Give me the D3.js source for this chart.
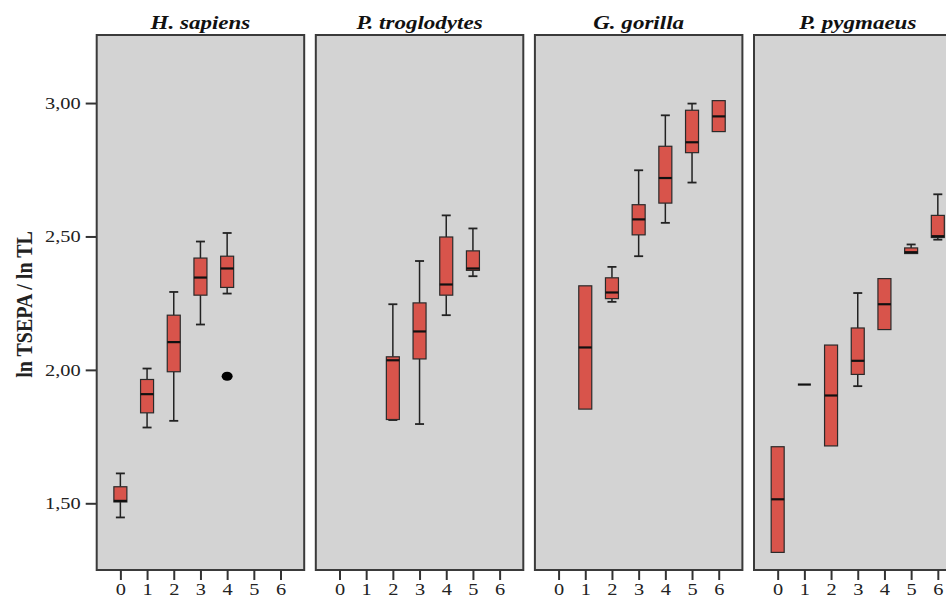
<!DOCTYPE html>
<html>
<head>
<meta charset="utf-8">
<script src="https://cdn.jsdelivr.net/npm/d3@7"></script>
<style>
  html, body { margin: 0; padding: 0; background: #fff; }
  svg { display: block; }
  text { font-family: 'Liberation Serif', 'Times New Roman', 'DejaVu Serif', serif; }
</style>
</head>
<body>
<svg id="chart" width="946" height="599"></svg>
<script>
// ---- Data ----
const species = ["H. sapiens", "P. troglodytes", "G. gorilla", "P. pygmaeus"];
const categories = [0, 1, 2, 3, 4, 5, 6];
const yTicks = [1.5, 2.0, 2.5, 3.0];
const yLabel = "ln TSEPA / ln TL";

// each box: [category, whiskerLow, q1, median, q3, whiskerHigh] (null whisker = none)
const hSapiens = [
  [0, 1.447, 1.505, 1.509, 1.562, 1.612],
  [1, 1.784, 1.839, 1.909, 1.964, 2.005],
  [2, 1.809, 1.993, 2.104, 2.205, 2.292],
  [3, 2.170, 2.280, 2.346, 2.419, 2.481],
  [4, 2.286, 2.309, 2.380, 2.426, 2.513]
];
const pTroglodytes = [
  [2, 1.812, 1.814, 2.036, 2.049, 2.246],
  [3, 1.797, 2.041, 2.144, 2.251, 2.408],
  [4, 2.205, 2.280, 2.320, 2.498, 2.579],
  [5, 2.351, 2.373, 2.380, 2.446, 2.530]
];
const gGorilla = [
  [1, null, 1.853, 2.084, 2.315, null],
  [2, 2.255, 2.267, 2.290, 2.345, 2.386],
  [3, 2.426, 2.506, 2.564, 2.619, 2.748],
  [4, 2.551, 2.625, 2.719, 2.838, 2.954],
  [5, 2.702, 2.814, 2.853, 2.973, 2.998],
  [6, null, 2.893, 2.950, 3.009, null]
];
const pPygmaeus = [
  [0, null, 1.316, 1.515, 1.712, null],
  [1, null, 1.945, 1.945, 1.945, null],
  [2, null, 1.715, 1.904, 2.093, null],
  [3, 1.939, 1.983, 2.034, 2.157, 2.288],
  [4, null, 2.151, 2.246, 2.342, null],
  [5, null, 2.436, 2.441, 2.457, 2.470],
  [6, 2.488, 2.496, 2.501, 2.579, 2.658]
];
// outliers: [category, value]
const hSapiensOutliers = [[4, 1.976]];
const panelsData = [hSapiens, pTroglodytes, gGorilla, pPygmaeus];
const panelsOutliers = [hSapiensOutliers, [], [], []];

// ---- Layout ----
const svg = d3.select("#chart");
const panelTop = 35, panelBottom = 570;
const panelWidth = 207.5, panelStep = 219.1, firstLeft = 96.7;
const boxW = 13;
const fillColor = "#d8544b";
const stretch = 1.2;

const y = d3.scaleLinear().domain([1.25, 3.255]).range([panelBottom, panelTop]);
const panelX = d3.scaleBand().domain(species).range([firstLeft, firstLeft + panelStep * 4]).paddingInner(0).paddingOuter(0);

function stretchText(sel) {
  sel.each(function() {
    const t = d3.select(this);
    const x = +t.attr("x") || 0;
    t.attr("x", 0).attr("transform", `translate(${x},0) scale(${stretch},1)`);
  });
}

// Y axis
const yAxis = d3.axisLeft(y).tickValues(yTicks).tickSize(11).tickPadding(5)
  .tickFormat(d => d3.format(".2f")(d).replace(".", ","));
const yg = svg.append("g").attr("transform", `translate(${firstLeft},0)`).call(yAxis);
yg.select(".domain").remove();
yg.selectAll(".tick line").attr("stroke", "#333").attr("stroke-width", 2);
yg.selectAll(".tick text").attr("font-family", null)
  .attr("font-size", 17).attr("fill", "#222").call(stretchText);

svg.append("text")
  .attr("transform", `translate(31.5,${(panelTop + panelBottom) / 2 + 2}) rotate(-90) scale(1,${stretch})`)
  .attr("text-anchor", "middle")
  .attr("font-weight", "bold").attr("font-size", 20).attr("fill", "#222")
  .text(yLabel);

species.forEach((sp, i) => {
  const left = panelX(sp);
  const g = svg.append("g").attr("transform", `translate(${left},0)`);
  const x = d3.scalePoint().domain(categories).range([0, panelWidth]).padding(0.887);

  g.append("rect").attr("x", 0).attr("y", panelTop).attr("width", panelWidth)
    .attr("height", panelBottom - panelTop).attr("fill", "#d3d3d3")
    .attr("stroke", "#3a3a3a").attr("stroke-width", 2);

  // title
  g.append("text")
    .attr("transform", `translate(${panelWidth / 2},${panelTop - 6}) scale(1.28,1)`)
    .attr("text-anchor", "middle")
    .attr("font-weight", "bold").attr("font-style", "italic").attr("font-size", 18)
    .attr("fill", "#111").text(sp);

  // x axis
  const xAxis = d3.axisBottom(x).tickSize(10).tickPadding(3);
  const xg = g.append("g").attr("transform", `translate(0,${panelBottom})`).call(xAxis);
  xg.select(".domain").remove();
  xg.selectAll(".tick line").attr("stroke", "#333").attr("stroke-width", 2);
  xg.selectAll(".tick text").attr("font-family", null)
    .attr("font-size", 17).attr("fill", "#222").call(stretchText);

  const boxes = g.selectAll(".box").data(panelsData[i]).enter().append("g");
  boxes.each(function(d) {
    const sel = d3.select(this);
    const cx = x(d[0]);
    if (d[5] !== null) {
      sel.append("line").attr("x1", cx).attr("x2", cx).attr("y1", y(d[4])).attr("y2", y(d[5]))
        .attr("stroke", "#222").attr("stroke-width", 1.5);
      sel.append("line").attr("x1", cx - 4.5).attr("x2", cx + 4.5).attr("y1", y(d[5])).attr("y2", y(d[5]))
        .attr("stroke", "#222").attr("stroke-width", 1.8);
    }
    if (d[1] !== null) {
      sel.append("line").attr("x1", cx).attr("x2", cx).attr("y1", y(d[1])).attr("y2", y(d[2]))
        .attr("stroke", "#222").attr("stroke-width", 1.5);
      sel.append("line").attr("x1", cx - 4.5).attr("x2", cx + 4.5).attr("y1", y(d[1])).attr("y2", y(d[1]))
        .attr("stroke", "#222").attr("stroke-width", 1.8);
    }
    sel.append("rect").attr("x", cx - boxW / 2).attr("y", y(d[4]))
      .attr("width", boxW).attr("height", Math.max(0, y(d[2]) - y(d[4])))
      .attr("fill", fillColor).attr("stroke", "#2a2a2a").attr("stroke-width", 1.2);
    sel.append("line").attr("x1", cx - boxW / 2).attr("x2", cx + boxW / 2)
      .attr("y1", y(d[3])).attr("y2", y(d[3]))
      .attr("stroke", "#111").attr("stroke-width", 2.2);
  });

  g.selectAll(".outlier").data(panelsOutliers[i]).enter().append("ellipse")
    .attr("cx", d => x(d[0])).attr("cy", d => y(d[1]))
    .attr("rx", 5.5).attr("ry", 4.5).attr("fill", "#000");
});
</script>
</body>
</html>
